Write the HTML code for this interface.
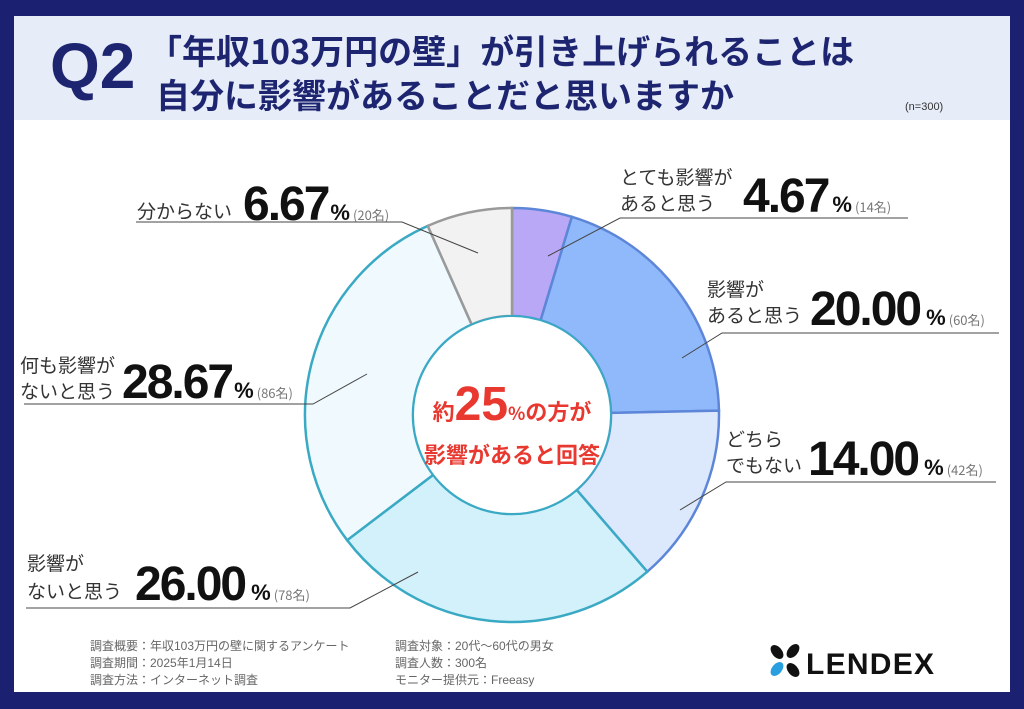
<!DOCTYPE html>
<html><head><meta charset="utf-8">
<style>
html,body{margin:0;padding:0;background:#1c2070;}
svg{display:block;}
text{font-family:"Liberation Sans","Noto Sans CJK JP",sans-serif;}
.jp{font-family:"Noto Sans CJK JP","Liberation Sans",sans-serif;}
</style></head>
<body>
<svg width="1024" height="709" viewBox="0 0 1024 709" xmlns="http://www.w3.org/2000/svg">
  <rect x="0" y="0" width="1024" height="709" fill="#1c2070"/>
  <rect x="14" y="16" width="996" height="676" fill="#ffffff"/>
  <rect x="14" y="16" width="996" height="104" fill="#e6ecf8"/>
  <text x="50" y="88" font-size="64" font-weight="bold" fill="#1e2570">Q2</text>
  <text class="jp" x="148" y="64" font-size="34" font-weight="bold" fill="#1e2570">「年収103万円の壁」が引き上げられることは</text>
  <text class="jp" x="156" y="108" font-size="34" font-weight="bold" fill="#1e2570">自分に影響があることだと思いますか</text>
  <text x="905" y="110" font-size="11" fill="#333">(n=300)</text>

  <g id="donut"></g>
  <g id="labels"></g>

  <circle cx="512" cy="415" r="99" fill="#ffffff" stroke="#3aa9c4" stroke-width="2"/>
  <text class="jp" text-anchor="middle" fill="#e8382f" font-weight="bold"><tspan x="512" y="420"><tspan font-size="22">約</tspan><tspan font-family="Liberation Sans" font-size="48">25</tspan><tspan font-size="18">%</tspan><tspan font-size="22">の方が</tspan></tspan></text>
  <text class="jp" x="512" y="463" text-anchor="middle" font-size="22" font-weight="bold" fill="#e8382f">影響があると回答</text>

  <g class="jp" font-size="12" fill="#666">
    <text x="90" y="650">調査概要：年収103万円の壁に関するアンケート</text>
    <text x="90" y="667">調査期間：2025年1月14日</text>
    <text x="90" y="684">調査方法：インターネット調査</text>
    <text x="395" y="650">調査対象：20代～60代の男女</text>
    <text x="395" y="667">調査人数：300名</text>
    <text x="395" y="684">モニター提供元：Freeasy</text>
  </g>
  <g>
    <ellipse cx="777" cy="652" rx="5" ry="8" transform="rotate(-40 777 652)" fill="#111"/>
    <ellipse cx="793" cy="651" rx="5" ry="8" transform="rotate(40 793 651)" fill="#111"/>
    <ellipse cx="777" cy="669" rx="5" ry="8" transform="rotate(40 777 669)" fill="#2a9fe0"/>
    <ellipse cx="793" cy="670" rx="5" ry="8" transform="rotate(-40 793 670)" fill="#111"/>
    <text x="806" y="674" font-size="30" font-weight="bold" fill="#111" textLength="128">LENDEX</text>
  </g>
</svg>
<script>
const categories = ["とても影響があると思う","影響があると思う","どちらでもない","影響がないと思う","何も影響がないと思う","分からない"];
const percents = [4.67, 20.00, 14.00, 26.00, 28.67, 6.67];
const counts = [14, 60, 42, 78, 86, 20];
const fills = ["#b9a8f6","#8fb9fa","#dce8fc","#d3f1fb","#f0f9fe","#f2f2f2"];
const strokes = ["#5d86d8","#5d86d8","#5d86d8","#3aa9c4","#3aa9c4","#9a9a9a"];

const NS = "http://www.w3.org/2000/svg";
const cx = 512, cy = 415, R = 207, r0 = 99;
const total = percents.reduce((a,b)=>a+b,0);
function angleAt(v){ return v/total*2*Math.PI - Math.PI/2; }
function pt(a, rad){ return [cx+rad*Math.cos(a), cy+rad*Math.sin(a)]; }

const g = document.getElementById('donut');
let acc = 0;
percents.forEach((p,i)=>{
  const a0 = angleAt(acc), a1 = angleAt(acc+p);
  acc += p;
  const large = (a1-a0) > Math.PI ? 1 : 0;
  const [x0,y0]=pt(a0,R),[x1,y1]=pt(a1,R),[x2,y2]=pt(a1,r0),[x3,y3]=pt(a0,r0);
  const path = document.createElementNS(NS,'path');
  path.setAttribute('d',`M${x0},${y0} A${R},${R} 0 ${large} 1 ${x1},${y1} L${x2},${y2} A${r0},${r0} 0 ${large} 0 ${x3},${y3} Z`);
  path.setAttribute('fill',fills[i]);
  path.setAttribute('stroke',strokes[i]);
  path.setAttribute('stroke-width','2.5');
  
  
  g.appendChild(path);
});

const layout = [
  {lines:["とても影響が","あると思う"], lx:620, ly:[184,210], nx:743, ny:212, ux1:620, ux2:908, uy:218, right:true, tip:[548,256], pctGap:4},
  {lines:["影響が","あると思う"], lx:707, ly:[296,322], nx:810, ny:325, ux1:722, ux2:999, uy:333, right:true, tip:[682,358], pctGap:6},
  {lines:["どちら","でもない"], lx:726, ly:[446,472], nx:808, ny:475, ux1:726, ux2:996, uy:482, right:true, tip:[680,510], pctGap:6},
  {lines:["影響が","ないと思う"], lx:27, ly:[570,598], nx:135, ny:600, ux1:26, ux2:350, uy:608, right:false, tip:[418,572], pctGap:6},
  {lines:["何も影響が","ないと思う"], lx:20, ly:[372,398], nx:122, ny:398, ux1:24, ux2:313, uy:404, right:false, tip:[367,374], pctGap:2},
  {lines:["分からない"], lx:137, ly:[218], nx:243, ny:220, ux1:136, ux2:402, uy:222, right:false, tip:[478,253], pctGap:2}
];
const lg = document.getElementById('labels');
layout.forEach((L,i)=>{
  L.lines.forEach((s,j)=>{
    const t=document.createElementNS(NS,'text');
    t.setAttribute('x',L.lx); t.setAttribute('y',L.ly[j]);
    t.setAttribute('font-size','19'); t.setAttribute('fill','#333');
    t.setAttribute('class','jp');
    t.textContent=s;
    
    
    lg.appendChild(t);
  });
  const n=document.createElementNS(NS,'text');
  n.setAttribute('x',L.nx); n.setAttribute('y',L.ny);
  n.setAttribute('font-size','48'); n.setAttribute('font-weight','bold'); n.setAttribute('fill','#111');
  n.setAttribute('letter-spacing','-2');
  const num=document.createElementNS(NS,'tspan'); num.textContent=percents[i].toFixed(2);
  const pc=document.createElementNS(NS,'tspan'); pc.setAttribute('font-size','22'); pc.setAttribute('dx',L.pctGap); pc.setAttribute('letter-spacing','0'); pc.textContent='%';
  const ct=document.createElementNS(NS,'tspan'); ct.setAttribute('font-size','13'); ct.setAttribute('font-weight','normal'); ct.setAttribute('fill','#777'); ct.setAttribute('dx','3'); ct.setAttribute('letter-spacing','0'); ct.setAttribute('class','jp'); ct.textContent='('+counts[i]+'名)';
  n.appendChild(num); n.appendChild(pc); n.appendChild(ct);
  
  
  lg.appendChild(n);
  const u=document.createElementNS(NS,'polyline');
  const pts = L.right ? `${L.tip[0]},${L.tip[1]} ${L.ux1},${L.uy} ${L.ux2},${L.uy}` : `${L.ux1},${L.uy} ${L.ux2},${L.uy} ${L.tip[0]},${L.tip[1]}`;
  u.setAttribute('points',pts);
  u.setAttribute('fill','none'); u.setAttribute('stroke','#444'); u.setAttribute('stroke-width','1');
  
  
  lg.appendChild(u);
});
</script>
</body></html>
